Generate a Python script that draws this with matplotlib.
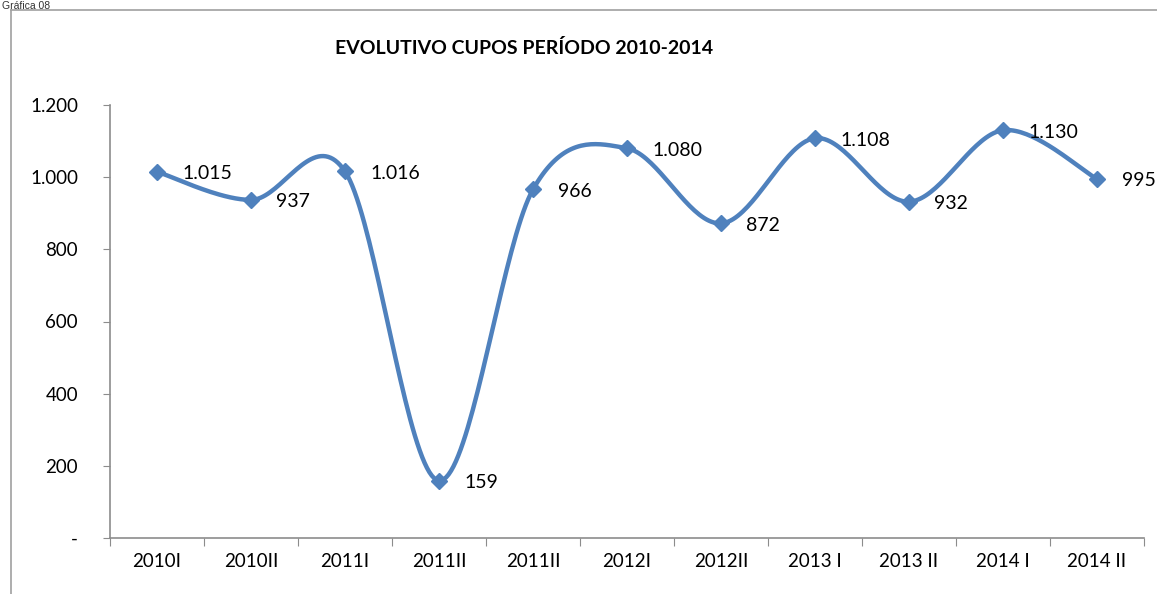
import numpy as np
import matplotlib.pyplot as plt
from matplotlib.lines import Line2D
from matplotlib.ticker import FixedLocator, FuncFormatter
import matplotlib.transforms as mtransforms

periodos = ['2010I', '2010II', '2011I', '2011II', '2011II', '2012I', '2012II',
            '2013 I', '2013 II', '2014 I', '2014 II']
cupos = [1015, 937, 1016, 159, 966, 1080, 872, 1108, 932, 1130, 995]
y_ticks = [0, 200, 400, 600, 800, 1000, 1200]

color = '#4F81BD'
gris = '#8c8c8c'


def miles(v):
    # formato con punto de miles, "-" para el cero
    v = int(round(v))
    if v == 0:
        return '-'
    return f'{v:,}'.replace(',', '.')


def suavizar(x, y, n=40):
    # curva suavizada tipo Excel (Catmull-Rom con bezier)
    x = np.asarray(x, float)
    y = np.asarray(y, float)
    px, py = [], []
    m = len(x)
    for i in range(m - 1):
        i0 = max(i - 1, 0)
        i3 = min(i + 2, m - 1)
        p0 = np.array([x[i], y[i]])
        p3 = np.array([x[i + 1], y[i + 1]])
        c1 = p0 + (np.array([x[i + 1], y[i + 1]]) - np.array([x[i0], y[i0]])) / 6
        c2 = p3 - (np.array([x[i3], y[i3]]) - np.array([x[i], y[i]])) / 6
        t = np.linspace(0, 1, n)[:, None]
        pts = ((1 - t) ** 3) * p0 + 3 * ((1 - t) ** 2) * t * c1 + 3 * (1 - t) * t ** 2 * c2 + t ** 3 * p3
        px.extend(pts[:, 0])
        py.extend(pts[:, 1])
    return np.array(px), np.array(py)


plt.rcParams['font.family'] = ['Lato', 'DejaVu Sans']

fig = plt.figure(figsize=(11.57, 5.94), dpi=100)
ax = fig.add_axes([110 / 1157, 1 - 538 / 594, (1144 - 110) / 1157, (538 - 105) / 594])

xs = np.arange(len(cupos))
sx, sy = suavizar(xs, cupos)
ax.plot(sx, sy, color=color, lw=3.2, solid_capstyle='round', zorder=2)
ax.plot(xs, cupos, ls='none', marker='D', ms=8.5, color=color, zorder=3)

offset = mtransforms.offset_copy(ax.transData, fig=fig, x=25, y=-2, units='dots')
for xi, v in zip(xs, cupos):
    ax.text(xi, v, miles(v), transform=offset, ha='left', va='center',
            fontsize=14, color='black')

ax.set_xlim(-0.5, len(cupos) - 0.5)
ax.set_ylim(0, 1200)
ax.set_yticks(y_ticks)
ax.yaxis.set_major_formatter(FuncFormatter(lambda v, p: miles(v)))
ax.xaxis.set_major_locator(FixedLocator(np.arange(len(cupos) + 1) - 0.5))
ax.xaxis.set_minor_locator(FixedLocator(xs))
ax.set_xticklabels([])
ax.set_xticklabels(periodos, minor=True)
ax.tick_params(axis='x', which='major', length=6, color=gris, direction='out')
ax.tick_params(axis='x', which='minor', length=0, pad=11, labelsize=13.5)
ax.tick_params(axis='y', length=5, color=gris, labelsize=13.5, pad=18)
for s in ['top', 'right']:
    ax.spines[s].set_visible(False)
for s in ['left', 'bottom']:
    ax.spines[s].set_color(gris)
    ax.spines[s].set_linewidth(1.2)

fig.text(524 / 1157, 1 - 48 / 594, 'EVOLUTIVO CUPOS PERÍODO 2010-2014',
         ha='center', va='center', fontsize=14, fontweight='bold')
fig.text(2 / 1157, 1 - 1 / 594, 'Gráfica 08', ha='left', va='top',
         fontsize=7.5, family='Liberation Sans', color='#333333')

# marco exterior
fig.add_artist(Line2D([11 / 1157, 11 / 1157], [0, 1 - 10 / 594], color='#a0a0a0', lw=1.2))
fig.add_artist(Line2D([11 / 1157, 1], [1 - 10 / 594, 1 - 10 / 594], color='#a0a0a0', lw=1.2))

fig.savefig('out.png', dpi=100)
